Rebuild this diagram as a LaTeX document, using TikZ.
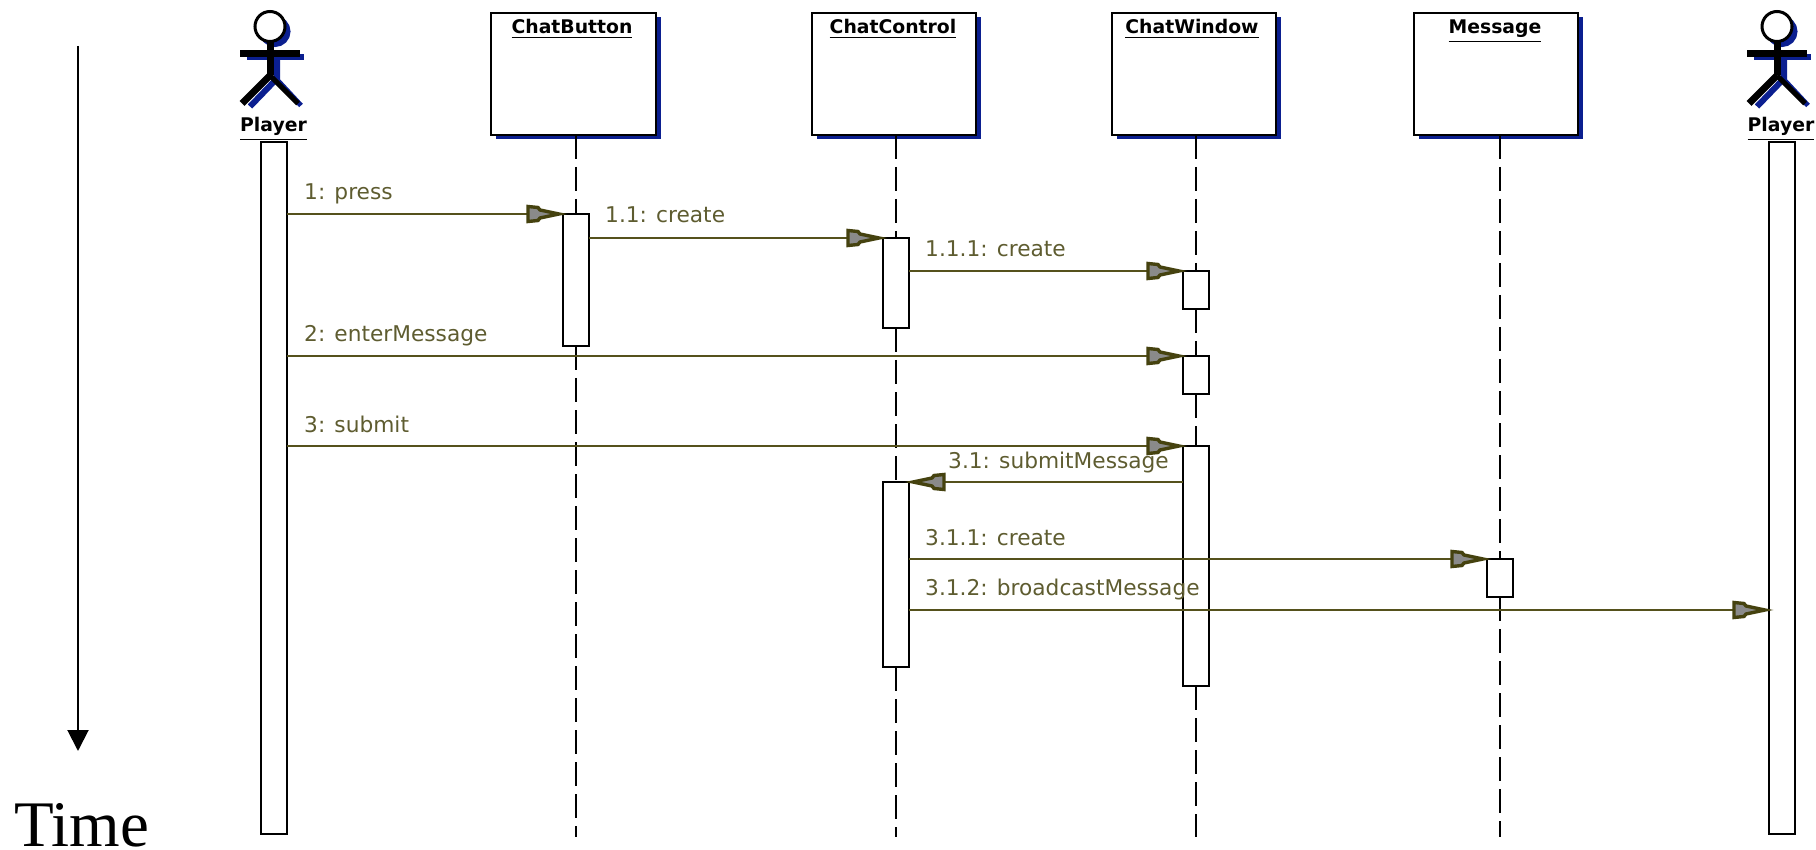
\documentclass[tikz,border=0pt]{standalone}
\usepackage{fontspec}
\setmainfont{Liberation Serif}
\newfontfamily\umlfont{DejaVu Sans}
\usetikzlibrary{arrows.meta,shadows}
\definecolor{msgline}{HTML}{55511C}
\definecolor{msgtext}{HTML}{5E5C30}
\definecolor{tipline}{HTML}{45420F}
\definecolor{tipfill}{HTML}{8A8A8A}
\definecolor{shadowblue}{HTML}{0B1F90}
\newcommand{\ulname}[1]{\vtop{\hbox{#1}\kern2.5pt\hrule height 1.6pt}}
\pgfdeclarearrow{
  name=MsgTip,
  setup code={\pgfarrowssettipend{0pt}\pgfarrowssetbackend{-37pt}\pgfarrowssetlineend{-30pt}},
  drawing code={
    \pgfsetstrokecolor{tipline}\pgfsetfillcolor{tipfill}
    \pgfsetlinewidth{3.4pt}\pgfsetmiterjoin
    \pgfpathmoveto{\pgfqpoint{-4pt}{0pt}}
    \pgfpathlineto{\pgfqpoint{-23pt}{4pt}}
    \pgfpathlineto{\pgfqpoint{-25pt}{6.5pt}}
    \pgfpathlineto{\pgfqpoint{-35pt}{7.5pt}}
    \pgfpathlineto{\pgfqpoint{-35pt}{-7.5pt}}
    \pgfpathlineto{\pgfqpoint{-25pt}{-6.5pt}}
    \pgfpathlineto{\pgfqpoint{-23pt}{-4pt}}
    \pgfpathclose
    \pgfusepathqfillstroke
  }
}
\begin{document}
\begin{tikzpicture}[x=1pt,y=-1pt]
\tikzset{objbox/.style={draw, line width=1.5pt, fill=white, anchor=north west, outer sep=0pt, minimum height=122pt, drop shadow={shadow xshift=4.5pt, shadow yshift=-4.5pt, fill=shadowblue, opacity=1}}}
\tikzset{bar/.style={draw, line width=1.3pt, fill=white, anchor=north west, outer sep=0pt, minimum width=26pt}}
\tikzset{title/.style={anchor=base, inner sep=0pt, font=\umlfont\bfseries\fontsize{18.8}{19}\selectfont}}
\tikzset{lifeline/.style={line width=1.5pt, dash pattern=on 24pt off 8pt}}
\tikzset{msg/.style={draw=msgline, line width=1.5pt, -MsgTip}}
\tikzset{msglabel/.style={anchor=base west, inner sep=0pt, text=msgtext, font=\umlfont\fontsize{21.7}{22}\selectfont}}
\tikzset{actor/.pic={
  \draw[shadowblue, line width=7pt] (5,5) circle (12pt);
  \draw[shadowblue, line width=6pt] (-23,31) -- (34,31);
  \draw[shadowblue, line width=6pt] (7,28) -- (7,52) -- (-20,80);
  \draw[shadowblue, line width=5pt] (4,50) -- (31,79);
  \draw[black, line width=3pt, fill=white] (0,0) circle (15pt);
  \draw[black, line width=7pt] (0,15) -- (0,49);
  \draw[black, line width=7pt] (-30,27) -- (30,27);
  \draw[black, line width=7pt] (0,49) -- (-28,77);
  \draw[black, line width=5pt] (0,49) -- (28,77);
}}
\useasboundingbox (0,0) rectangle (1816,850);
\coordinate (Bot) at (0,837);
\node[objbox, minimum width=165pt] (Button) at (491,13) {};
\node[objbox, minimum width=164pt] (Control) at (812,13) {};
\node[objbox, minimum width=164pt] (Window) at (1112,13) {};
\node[objbox, minimum width=164pt] (Message) at (1414,13) {};
\node[title] (TButton) at (572,34) {\ulname{ChatButton}};
\node[title] (TControl) at (893,34) {\ulname{ChatControl}};
\node[title] (TWindow) at (1192,34) {\ulname{ChatWindow}};
\node[title] (TMessage) at (1495,34) {\ulname{Message}};
\pic at (270,26.5) {actor};
\pic at (1777,26.5) {actor};
\node[title] (TPlayerL) at (273.5,132) {\ulname{Player}};
\node[title] (TPlayerR) at (1781,132) {\ulname{Player}};
\node[bar, minimum height=692pt] (PlayerL) at (261,142) {};
\node[bar, minimum height=692pt] (PlayerR) at (1769,142) {};
\node[bar, minimum height=132pt] (B1) at (563,214) {};
\node[bar, minimum height=90pt] (C1) at (883,238) {};
\node[bar, minimum height=38pt] (W1) at (1183,271) {};
\node[bar, minimum height=38pt] (W2) at (1183,356) {};
\node[bar, minimum height=240pt] (W3) at (1183,446) {};
\node[bar, minimum height=185pt] (C2) at (883,482) {};
\node[bar, minimum height=38pt] (M1) at (1487,559) {};
\draw[lifeline] (Button.south -| B1.north) -- (B1.north);
\draw[lifeline] (B1.south) -- (B1.south |- Bot);
\draw[lifeline] (Control.south -| C1.north) -- (C1.north);
\draw[lifeline] (C1.south) -- (C2.north);
\draw[lifeline] (C2.south) -- (C2.south |- Bot);
\draw[lifeline] (Window.south -| W1.north) -- (W1.north);
\draw[lifeline] (W1.south) -- (W2.north);
\draw[lifeline] (W2.south) -- (W3.north);
\draw[lifeline] (W3.south) -- (W3.south |- Bot);
\draw[lifeline] (Message.south -| M1.north) -- (M1.north);
\draw[lifeline] (M1.south) -- (M1.south |- Bot);
\coordinate (Y312) at (0,610);
\draw[msg] (PlayerL.east |- B1.north) -- (B1.north west);
\draw[msg] (B1.east |- C1.north) -- (C1.north west);
\draw[msg] (C1.east |- W1.north) -- (W1.north west);
\draw[msg] (PlayerL.east |- W2.north) -- (W2.north west);
\draw[msg] (PlayerL.east |- W3.north) -- (W3.north west);
\draw[msg] (W3.west |- C2.north) -- (C2.north east);
\draw[msg] (C2.east |- M1.north) -- (M1.north west);
\draw[msg] (C2.east |- Y312) -- (PlayerR.west |- Y312);
\node[msglabel] (L1) at (304,200) {1: press};
\node[msglabel] (L11) at (605,223) {1.1: create};
\node[msglabel] (L111) at (925,257) {1.1.1: create};
\node[msglabel] (L2) at (304,342) {2: enterMessage};
\node[msglabel] (L3) at (304,432) {3: submit};
\node[msglabel] (L31) at (948,468) {3.1: submitMessage};
\node[msglabel] (L311) at (925,545) {3.1.1: create};
\node[msglabel] (L312) at (925,595) {3.1.2: broadcastMessage};
\coordinate (TimeTop) at (78,46);
\node[anchor=base west, inner sep=0pt, font=\fontsize{65}{66}\selectfont] (Time) at (14,846) {Time};
\draw[line width=2pt, -{Triangle[length=21pt, width=21pt]}] (TimeTop) -- (78,751);
\end{tikzpicture}
\end{document}
